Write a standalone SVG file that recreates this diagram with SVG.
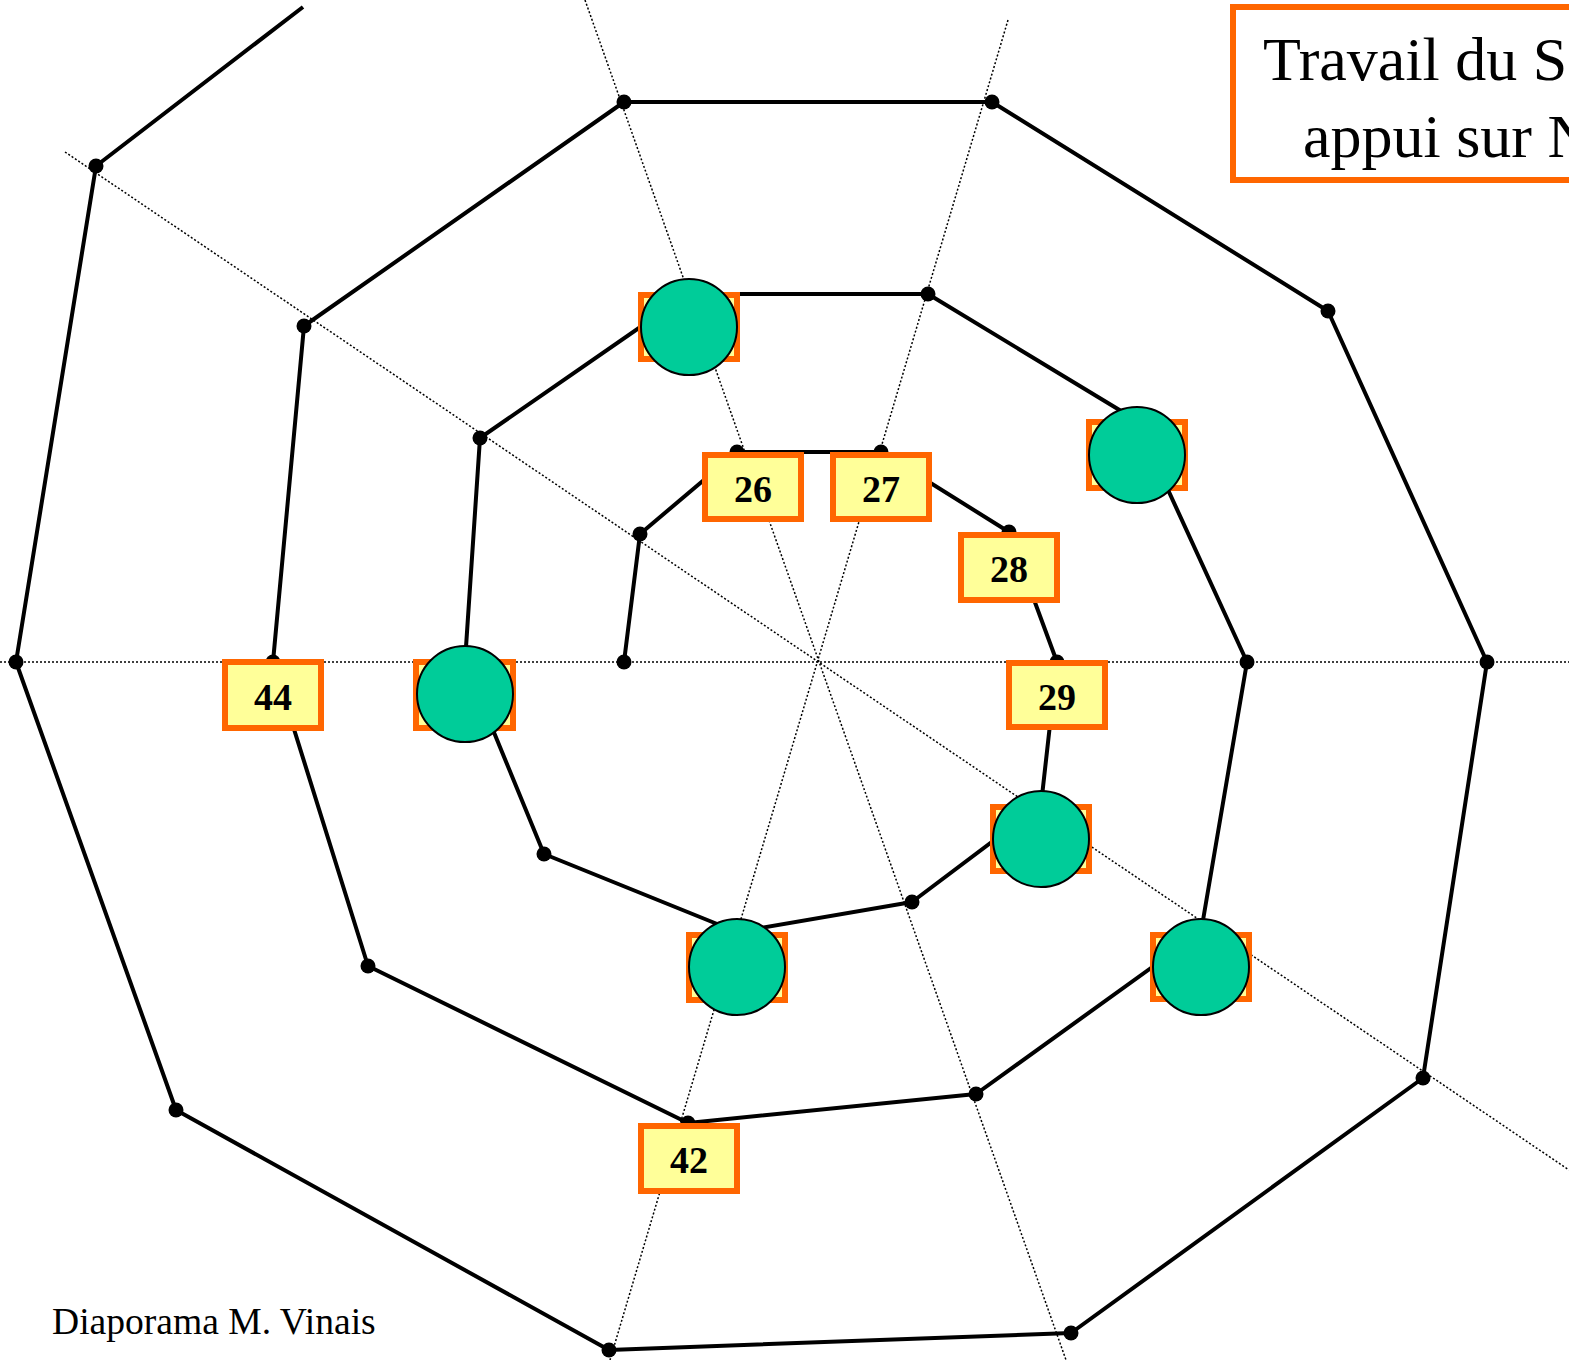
<svg xmlns="http://www.w3.org/2000/svg" width="1569" height="1360" viewBox="0 0 1569 1360">
<style>
.guide{stroke:#000;stroke-width:1.5;stroke-dasharray:2 2;fill:none}
.spiral{stroke:#000;stroke-width:4;fill:none;stroke-linejoin:round}
.dot{fill:#000}
.box{fill:#FFFF99;stroke:#FF6600;stroke-width:6}
.ball{fill:#00CC99;stroke:#000;stroke-width:2}
.num{font-family:"Liberation Serif","Times New Roman",serif;font-weight:bold;font-size:38px;text-anchor:middle;fill:#000}
.title{font-family:"Liberation Serif","Times New Roman",serif;font-size:62px;fill:#000}
</style>
<rect width="1569" height="1360" fill="#fff"/>
<g id="guides">
<line class="guide" x1="0" y1="662" x2="1569" y2="662"/>
<line class="guide" x1="65" y1="152" x2="1569" y2="1170"/>
<line class="guide" x1="585" y1="0" x2="1066" y2="1360"/>
<line class="guide" x1="1008" y1="20" x2="610" y2="1360"/>
</g>
<g id="connectors">
<polyline class="spiral" points="303,7 96,166 16,662 176,1110 609,1350 1071,1333 1423,1078 1487,662 1328,311 992,102 624,102 304,326 273,662 368,966 688,1123 976,1094 1201,932 1247,662 1136,420 928,294 688,294 480,438 465,662 544,854 737,932 912,902 1041,805 1057,662 1009,532 881,452 737,452 640,534 624,662"/>
<g class="dot">
<circle cx="96" cy="166" r="7.5"/><circle cx="16" cy="662" r="7.5"/><circle cx="176" cy="1110" r="7.5"/>
<circle cx="609" cy="1350" r="7.5"/><circle cx="1071" cy="1333" r="7.5"/><circle cx="1423" cy="1078" r="7.5"/>
<circle cx="1487" cy="662" r="7.5"/><circle cx="1328" cy="311" r="7.5"/><circle cx="992" cy="102" r="7.5"/>
<circle cx="624" cy="102" r="7.5"/><circle cx="304" cy="326" r="7.5"/><circle cx="273" cy="662" r="7.5"/>
<circle cx="368" cy="966" r="7.5"/><circle cx="688" cy="1123" r="7.5"/><circle cx="976" cy="1094" r="7.5"/>
<circle cx="1247" cy="662" r="7.5"/><circle cx="928" cy="294" r="7.5"/><circle cx="480" cy="438" r="7.5"/>
<circle cx="544" cy="854" r="7.5"/><circle cx="912" cy="902" r="7.5"/><circle cx="1057" cy="662" r="7.5"/>
<circle cx="1009" cy="532" r="7.5"/><circle cx="881" cy="452" r="7.5"/><circle cx="737" cy="452" r="7.5"/>
<circle cx="640" cy="534" r="7.5"/><circle cx="624" cy="662" r="7.5"/>
</g>
</g>
<g id="n26"><rect class="box" x="705" y="455" width="96" height="64"/><text class="num" x="753" y="502">26</text></g>
<g id="n27"><rect class="box" x="833" y="455" width="96" height="64"/><text class="num" x="881" y="502">27</text></g>
<g id="n28"><rect class="box" x="961" y="535" width="96" height="65"/><text class="num" x="1009" y="582">28</text></g>
<g id="n29"><rect class="box" x="1009" y="663" width="96" height="64"/><text class="num" x="1057" y="710">29</text></g>
<g id="n42"><rect class="box" x="641" y="1126" width="96" height="65"/><text class="num" x="689" y="1173">42</text></g>
<g id="n44"><rect class="box" x="225" y="662" width="96" height="66"/><text class="num" x="273" y="710">44</text></g>
<g id="c1"><rect class="box" x="641" y="295" width="96" height="64"/><circle class="ball" cx="689" cy="327" r="48"/></g>
<g id="c2"><rect class="box" x="1089" y="422" width="96" height="66"/><circle class="ball" cx="1137" cy="455" r="48"/></g>
<g id="c3"><rect class="box" x="416" y="662" width="97" height="66"/><circle class="ball" cx="465" cy="694" r="48"/></g>
<g id="c4"><rect class="box" x="993" y="807" width="96" height="64"/><circle class="ball" cx="1041" cy="839" r="48"/></g>
<g id="c5"><rect class="box" x="689" y="935" width="96" height="65"/><circle class="ball" cx="737" cy="967" r="48"/></g>
<g id="c6"><rect class="box" x="1153" y="935" width="96" height="64"/><circle class="ball" cx="1201" cy="967" r="48"/></g>
<g id="title">
<rect x="1233" y="7" width="345" height="173" fill="#fff" stroke="#FF6600" stroke-width="6"/>
<text class="title" x="1263" y="80">Travail du S</text>
<text class="title" x="1303" y="157">appui sur N</text>
</g>
<text id="credit" x="52" y="1334" font-family="'Liberation Serif','Times New Roman',serif" font-size="37.6" fill="#000">Diaporama M. Vinais</text>
</svg>
